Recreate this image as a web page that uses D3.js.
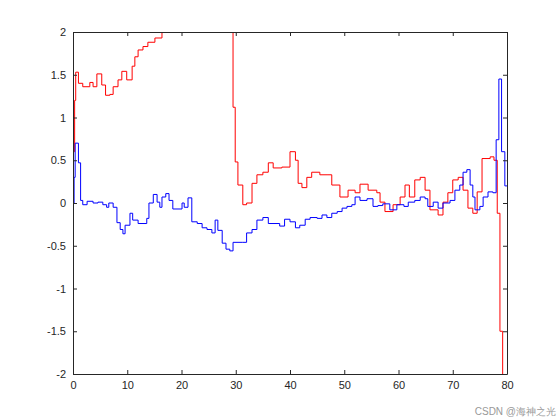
<!DOCTYPE html>
<html>
<head>
<meta charset="utf-8">
<script src="https://cdn.jsdelivr.net/npm/d3@7"></script>
<style>
body{margin:0;background:#fff;}
text{font-family:Arial,"Liberation Sans",sans-serif;}
</style>
</head>
<body>
<script>
// values
var redT = [0,0.3,0.5,1,1.8,3.1,3.7,4.4,5.3,6,6.8,7.4,8.3,9,9.9,10.9,11.4,12,12.9,13.8,15.1,16.4,29.3,29.5,29.9,30.4,31.3,32,33,33.9,35,36,36.9,38.5,40,41,41.5,42.2,43.1,44,45.5,47,47.7,49.2,50.7,52,52.9,54.4,56,56.6,57.5,59,60.3,61.2,62,63,64,64.9,65.8,67.3,68.2,69.1,70,71,71.9,72.8,73.7,74.5,75.4,76.9,77.6,78.2,78.7,79.2];
var redV = [0.6,1.2,1.53,1.4,1.36,1.41,1.36,1.51,1.38,1.26,1.27,1.36,1.44,1.54,1.44,1.6,1.71,1.79,1.83,1.88,1.93,2.0,2.0,1.12,0.48,0.21,-0.02,0,0.23,0.33,0.36,0.47,0.41,0.42,0.6,0.5,0.23,0.18,0.3,0.36,0.33,0.33,0.21,0.07,0.15,0.12,0.22,0.15,0.12,0.01,-0.1,-0.02,0.07,0.21,0.07,0.27,0.3,0.15,-0.08,-0.14,0.01,0.12,0.27,0.3,0.15,-0.06,-0.12,0.13,0.52,0.54,0.5,-0.12,-1.5,-2.05];
var blueT = [0,0.2,0.4,1,1.4,1.8,2.6,3.7,4.6,5.5,6.2,6.6,7.4,8.1,8.7,9.2,9.6,10.5,11,12,13.6,14,14.8,15.5,16,16.4,17.1,17.7,18.4,20.1,20.5,21.2,21.9,22.9,23.8,24.7,25.6,26.2,26.7,27.5,28.2,28.9,29.5,31.3,32,33,33.9,35,36,38.1,39,40,41,41.8,42.8,43.7,45,45.9,46.8,47.7,48.7,49.6,50.5,51.4,52,52.9,54.2,55.3,56.2,57.1,58.4,59.7,61,61.8,63,64,64.9,65.4,66.4,67.3,68.2,69.5,70.4,71.3,71.9,72.6,73.2,73.7,74.1,75,75.6,76.5,77.4,78,78.5,79,79.6,80];
var blueV = [0,0.3,0.7,0.47,0.03,-0.02,0.02,0,0.01,-0.02,-0.05,0,-0.05,-0.23,-0.31,-0.36,-0.26,-0.12,-0.2,-0.24,-0.18,0,0.1,0.01,-0.05,0.07,0.11,0.03,-0.07,0,-0.05,0.06,-0.22,-0.24,-0.29,-0.31,-0.35,-0.2,-0.32,-0.47,-0.54,-0.56,-0.46,-0.46,-0.35,-0.31,-0.2,-0.17,-0.24,-0.27,-0.19,-0.22,-0.29,-0.26,-0.19,-0.17,-0.18,-0.14,-0.17,-0.12,-0.1,-0.06,-0.04,-0.02,0.07,0.03,0.05,-0.04,-0.03,-0.01,-0.08,-0.02,-0.04,0.01,0.03,0.07,0.05,-0.04,0.01,-0.06,0,0.03,0.15,0.21,0.36,0.39,0.21,0.07,-0.08,-0.04,0.07,0.13,0.12,0.74,1.45,0.6,0.2,0.2];
var xTicks = [0,10,20,30,40,50,60,70,80];
var yTicks = [-2,-1.5,-1,-0.5,0,0.5,1,1.5,2];

var W = 560, H = 420, m = {l:73, r:53, t:32, b:46};
var svg = d3.select("body").append("svg").attr("width",W).attr("height",H);
var x = d3.scaleLinear().domain([0,80]).range([m.l, W-m.r]);
var y = d3.scaleLinear().domain([-2,2]).range([H-m.b, m.t]);

svg.append("clipPath").attr("id","clip").append("rect")
	.attr("x",m.l).attr("y",m.t).attr("width",W-m.l-m.r).attr("height",H-m.t-m.b);

var line = d3.line().curve(d3.curveStepAfter).x(d=>x(d[0])).y(d=>y(d[1]));
function series(T,V,col){
	svg.append("path").datum(T.map((t,i)=>[t,V[i]]))
		.attr("d",line).attr("fill","none").attr("stroke",col)
		.attr("stroke-width",1).attr("clip-path","url(#clip)");
}
series(redT,redV,"#ff0000");
series(blueT,blueV,"#0000ff");

function fmt(d){return String(d);}
var ax = [
	[d3.axisBottom(x).tickValues(xTicks).tickFormat(fmt).tickSizeInner(-4).tickSizeOuter(0), "translate(0,"+(H-m.b)+")"],
	[d3.axisTop(x).tickValues(xTicks).tickFormat("").tickSizeInner(-4).tickSizeOuter(0), "translate(0,"+m.t+")"],
	[d3.axisLeft(y).tickValues(yTicks).tickFormat(fmt).tickSizeInner(-4).tickSizeOuter(0), "translate("+m.l+",0)"],
	[d3.axisRight(y).tickValues(yTicks).tickFormat("").tickSizeInner(-4).tickSizeOuter(0), "translate("+(W-m.r)+",0)"]
];
ax.forEach(function(a){
	var g = svg.append("g").attr("transform",a[1]).call(a[0]);
	g.selectAll("path,line").attr("stroke","#262626");
	g.selectAll("text").attr("fill","#262626").attr("font-size",11);
});
svg.selectAll("g .tick text").each(function(){
	var t = d3.select(this);
	if (t.attr("dy")==="0.71em") t.attr("y",7);
	else t.attr("x",-7);
});

svg.append("text").attr("x",W-4).attr("y",H-5).attr("text-anchor","end")
	.attr("font-size",10).attr("fill","#999").text("CSDN @海神之光");
</script>
</body>
</html>
